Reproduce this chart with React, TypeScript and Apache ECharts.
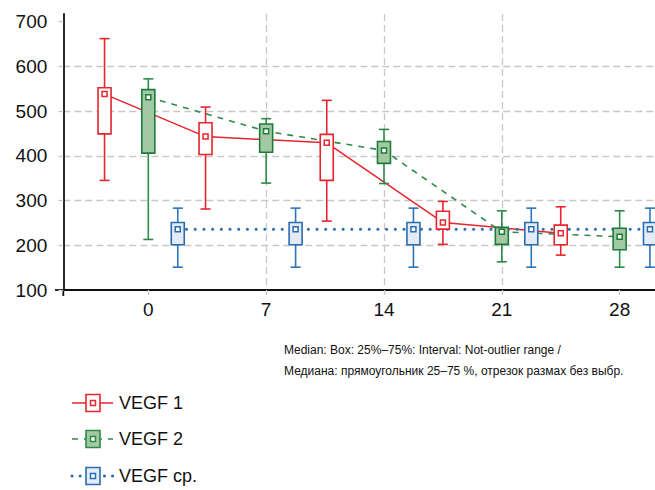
import React, { useEffect, useRef } from 'react';
import * as echarts from 'echarts';

// ---- data ----
const xTickValues = [0, 7, 14, 21, 28];
const yTickValues = [100, 200, 300, 400, 500, 600, 700];

// VEGF 1 (red): x position, low whisker, Q1, median, Q3, high whisker
const vegf1X = [-2.6, 3.4, 10.6, 17.5, 24.5];
const vegf1Low = [345, 281, 254, 202, 178];
const vegf1Q1 = [449, 403, 345, 236, 201];
const vegf1Median = [538, 443, 429, 251, 227];
const vegf1Q3 = [552, 474, 448, 276, 245];
const vegf1High = [662, 509, 524, 298, 286];

// VEGF 2 (green)
const vegf2X = [0, 7, 14, 21, 28];
const vegf2Low = [213, 339, 338, 163, 151];
const vegf2Q1 = [406, 408, 383, 202, 190];
const vegf2Median = [531, 455, 412, 230, 219];
const vegf2Q3 = [548, 471, 432, 240, 238];
const vegf2High = [572, 483, 459, 277, 277];

// VEGF ср. (blue)
const vegfAvgX = [1.75, 8.75, 15.75, 22.75, 29.8];
const vegfAvgLow = [151, 151, 151, 151, 151];
const vegfAvgQ1 = [201, 201, 201, 201, 201];
const vegfAvgMedian = [236, 236, 236, 236, 236];
const vegfAvgQ3 = [251, 251, 251, 251, 251];
const vegfAvgHigh = [283, 283, 283, 283, 283];

const seriesNames = ['VEGF 1', 'VEGF 2', 'VEGF ср.'];
const noteLines = [
  'Median: Box: 25%\u201375%: Interval: Not-outlier range /',
  'Медиана: прямоугольник 25\u201375 %, отрезок размах без выбр.',
];

const RED = '#e8242c';
const GREEN = '#1e7b3c';
const GREEN_WH = '#2f8a4a';
const GREEN_FILL = '#a2c9a2';
const BLUE = '#2a6cb0';
const BLUE_WH = '#2f74b8';
const BLUE_FILL = '#e4ebf6';

const FONT = '"Liberation Sans", Arial, sans-serif';

function boxRows(x: number[], lo: number[], q1: number[], md: number[], q3: number[], hi: number[]) {
  return x.map((v, i) => [v, lo[i], q1[i], md[i], q3[i], hi[i]]);
}

function makeRender(stroke: string, whisker: string, fill: string) {
  return (params: any, api: any) => {
    const x = api.value(0);
    const lo = api.coord([x, api.value(1)]);
    const q1 = api.coord([x, api.value(2)]);
    const md = api.coord([x, api.value(3)]);
    const q3 = api.coord([x, api.value(4)]);
    const hi = api.coord([x, api.value(5)]);
    const cx = lo[0];
    const bw = 13;
    const cw = 10;
    const ms = 5;
    const ws = { stroke: whisker, lineWidth: 1.6 };
    return {
      type: 'group',
      children: [
        { type: 'line', shape: { x1: cx, y1: hi[1], x2: cx, y2: q3[1] }, style: ws },
        { type: 'line', shape: { x1: cx, y1: q1[1], x2: cx, y2: lo[1] }, style: ws },
        { type: 'line', shape: { x1: cx - cw / 2, y1: hi[1], x2: cx + cw / 2, y2: hi[1] }, style: ws },
        { type: 'line', shape: { x1: cx - cw / 2, y1: lo[1], x2: cx + cw / 2, y2: lo[1] }, style: ws },
        {
          type: 'rect',
          shape: { x: cx - bw / 2, y: q3[1], width: bw, height: q1[1] - q3[1] },
          style: { fill, stroke, lineWidth: 1.6 },
        },
        {
          type: 'rect',
          shape: { x: cx - ms / 2, y: md[1] - ms / 2, width: ms, height: ms },
          style: { fill: '#ffffff', stroke, lineWidth: 1.5 },
        },
      ],
    };
  };
}

function legendItem(y: number, color: string, fill: string, lineDash: any, cap: any, lw: number, name: string) {
  return {
    type: 'group',
    children: [
      {
        type: 'line',
        shape: { x1: 72, y1: y, x2: 113, y2: y },
        style: { stroke: color, lineWidth: lw, lineDash, lineCap: cap },
        z: 1,
      },
      {
        type: 'rect',
        shape: { x: 86, y: y - 8.5, width: 14, height: 17 },
        style: { fill, stroke: color, lineWidth: 1.6 },
        z: 2,
      },
      {
        type: 'rect',
        shape: { x: 90.5, y: y - 2.5, width: 5, height: 5 },
        style: { fill: '#ffffff', stroke: color, lineWidth: 1.5 },
        z: 3,
      },
      {
        type: 'text',
        x: 119,
        y,
        style: { text: name, fill: '#111', font: `18px ${FONT}`, textVerticalAlign: 'middle' },
        z: 3,
      },
    ],
  };
}

export default function App() {
  const ref = useRef<HTMLDivElement>(null);

  useEffect(() => {
    document.body.style.margin = '0';
    const chart = echarts.init(ref.current!, null, { renderer: 'svg' });
    const option: any = {
      animation: false,
      backgroundColor: '#ffffff',
      grid: { left: 63.3, right: 0, top: 14, bottom: 200, containLabel: false },
      xAxis: {
        type: 'value',
        min: -5.05,
        max: 30.1,
        axisLine: { show: true, onZero: false, lineStyle: { color: '#111', width: 1.8 } },
        axisTick: {
          show: true,
          length: 5,
          customValues: xTickValues,
          lineStyle: { color: '#c8c8c8', width: 1.3 },
        },
        axisLabel: {
          customValues: xTickValues,
          color: '#111',
          fontFamily: FONT,
          fontSize: 19,
          margin: 10,
        },
        splitLine: {
          show: true,
          showMinLine: false,
          showMaxLine: false,
          lineStyle: { color: '#c8c8c8', width: 1.3, type: [7, 4] },
        },
      },
      yAxis: {
        type: 'value',
        min: 100,
        max: 717,
        axisLine: { show: true, onZero: false, lineStyle: { color: '#111', width: 1.8 } },
        axisTick: {
          show: true,
          length: 5,
          customValues: yTickValues,
          lineStyle: { color: '#c8c8c8', width: 1.3 },
        },
        axisLabel: {
          customValues: yTickValues,
          color: '#111',
          fontFamily: FONT,
          fontSize: 19,
          margin: 16,
        },
        splitLine: {
          show: true,
          showMinLine: false,
          showMaxLine: false,
          lineStyle: { color: '#c8c8c8', width: 1.3, type: [7, 4] },
        },
      },
      series: [
        {
          name: seriesNames[0] + ' line',
          type: 'line',
          data: vegf1X.map((x, i) => [x, vegf1Median[i]]),
          symbol: 'none',
          lineStyle: { color: RED, width: 1.5 },
          z: 2,
        },
        {
          name: seriesNames[1] + ' line',
          type: 'line',
          data: vegf2X.map((x, i) => [x, vegf2Median[i]]),
          symbol: 'none',
          lineStyle: { color: GREEN_WH, width: 1.6, type: [6, 6] },
          z: 2,
        },
        {
          name: seriesNames[2] + ' line',
          type: 'line',
          data: vegfAvgX.map((x, i) => [x, vegfAvgMedian[i]]),
          symbol: 'none',
          lineStyle: { color: BLUE, width: 3, type: [0.1, 8.6], cap: 'round' },
          z: 2,
        },
        {
          name: seriesNames[0],
          type: 'custom',
          data: boxRows(vegf1X, vegf1Low, vegf1Q1, vegf1Median, vegf1Q3, vegf1High),
          encode: { x: 0, y: [1, 2, 3, 4, 5] },
          renderItem: makeRender(RED, RED, '#ffffff'),
          z: 3,
        },
        {
          name: seriesNames[1],
          type: 'custom',
          data: boxRows(vegf2X, vegf2Low, vegf2Q1, vegf2Median, vegf2Q3, vegf2High),
          encode: { x: 0, y: [1, 2, 3, 4, 5] },
          renderItem: makeRender(GREEN, GREEN_WH, GREEN_FILL),
          z: 3,
        },
        {
          name: seriesNames[2],
          type: 'custom',
          data: boxRows(vegfAvgX, vegfAvgLow, vegfAvgQ1, vegfAvgMedian, vegfAvgQ3, vegfAvgHigh),
          encode: { x: 0, y: [1, 2, 3, 4, 5] },
          renderItem: makeRender(BLUE, BLUE_WH, BLUE_FILL),
          z: 3,
        },
      ],
      graphic: [
        // small axis overhangs at the origin corner
        { type: 'line', shape: { x1: 55, y1: 290, x2: 64, y2: 290 }, style: { stroke: '#111', lineWidth: 1.8 } },
        { type: 'line', shape: { x1: 63.3, y1: 289, x2: 63.3, y2: 296 }, style: { stroke: '#111', lineWidth: 1.8 } },
        {
          type: 'text',
          left: 284,
          top: 344,
          style: { text: noteLines[0], fill: '#111', font: `12px ${FONT}` },
        },
        {
          type: 'text',
          left: 284,
          top: 365,
          style: { text: noteLines[1], fill: '#111', font: `12px ${FONT}` },
        },
        legendItem(403, RED, '#ffffff', null, 'butt', 1.5, seriesNames[0]),
        legendItem(439, GREEN_WH, GREEN_FILL, [6, 6], 'butt', 1.6, seriesNames[1]),
        legendItem(476, BLUE, BLUE_FILL, [0.1, 8], 'round', 3, seriesNames[2]),
      ],
    };
    chart.setOption(option);
    return () => chart.dispose();
  }, []);

  return <div ref={ref} style={{ position: 'fixed', left: 0, top: 0, width: 655, height: 490 }} />;
}
